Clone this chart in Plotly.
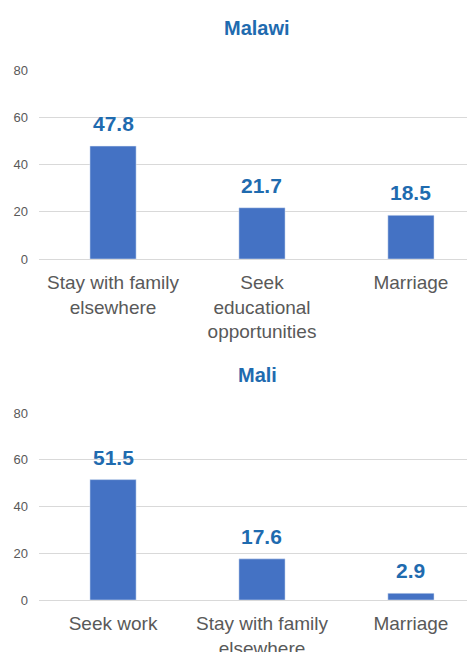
import plotly.graph_objects as go

malawi_cats = ["Stay with family<br>elsewhere", "Seek<br>educational<br>opportunities", "Marriage"]
malawi_vals = [47.8, 21.7, 18.5]
mali_cats = ["Seek work", "Stay with family<br>elsewhere", "Marriage"]
mali_vals = [51.5, 17.6, 2.9]
y_ticks = [0, 20, 40, 60, 80]

FONT = "Arial, Liberation Sans, sans-serif"
BAR = "#4472C4"
LBL = "#1F6BAF"
GRAY = "#595959"
GRID = "#D9D9D9"

# page body has an 8px margin; figure is sized/offset to compensate
OFF = 8
W = 475 - OFF
H = 652.0 - OFF

fig = go.Figure()
fig.add_trace(go.Bar(x=malawi_cats, y=malawi_vals, marker_color=BAR, width=0.31,
                     xaxis="x", yaxis="y", showlegend=False, hoverinfo="skip"))
fig.add_trace(go.Bar(x=mali_cats, y=mali_vals, marker_color=BAR, width=0.31,
                     xaxis="x2", yaxis="y2", showlegend=False, hoverinfo="skip"))

def dom(top_px, bot_px):
    return [(H - (bot_px - OFF)) / H, (H - (top_px - OFF)) / H]

annotations = []
for cats, vals, xr, yr in [(malawi_cats, malawi_vals, "x", "y"), (mali_cats, mali_vals, "x2", "y2")]:
    for c, v in zip(cats, vals):
        annotations.append(dict(x=c, y=v, xref=xr, yref=yr, text=f"<b>{v}</b>",
                                showarrow=False, yanchor="bottom", yshift=9,
                                font=dict(family=FONT, size=21, color=LBL)))
annotations.append(dict(x=0.5, y=(H - (28 - OFF)) / H, xref="paper", yref="paper", text="<b>Malawi</b>",
                        showarrow=False, xanchor="center", yanchor="middle",
                        font=dict(family=FONT, size=20, color=LBL)))
annotations.append(dict(x=0.5, y=(H - (375 - OFF)) / H, xref="paper", yref="paper", text="<b>Mali</b>",
                        showarrow=False, xanchor="center", yanchor="middle",
                        font=dict(family=FONT, size=20, color=LBL)))

xcommon = dict(range=[-0.497, 2.43], showgrid=False, zeroline=False, showline=False,
               ticks="", tickfont=dict(family=FONT, size=19, color=GRAY), automargin=False,
               ticklabelstandoff=10, fixedrange=True)
ycommon = dict(range=[0, 80], tickvals=y_ticks, showgrid=True, gridcolor=GRID, gridwidth=1.2,
               zeroline=True, zerolinecolor=GRID, zerolinewidth=1.2, showline=False,
               ticks="", tickfont=dict(family=FONT, size=13, color=GRAY), automargin=False,
               ticklabelstandoff=10, fixedrange=True)

fig.update_layout(
    width=W, height=H,
    margin=dict(l=39 - OFF, r=0, t=0, b=0),
    paper_bgcolor="white", plot_bgcolor="white",
    xaxis=dict(**xcommon, domain=[0, 1], anchor="y"),
    yaxis=dict(**ycommon, domain=dom(70, 259), anchor="x"),
    xaxis2=dict(**xcommon, domain=[0, 1], anchor="y2"),
    yaxis2=dict(**ycommon, domain=dom(413, 600), anchor="x2"),
    annotations=annotations,
)

fig.write_html("out.html")
